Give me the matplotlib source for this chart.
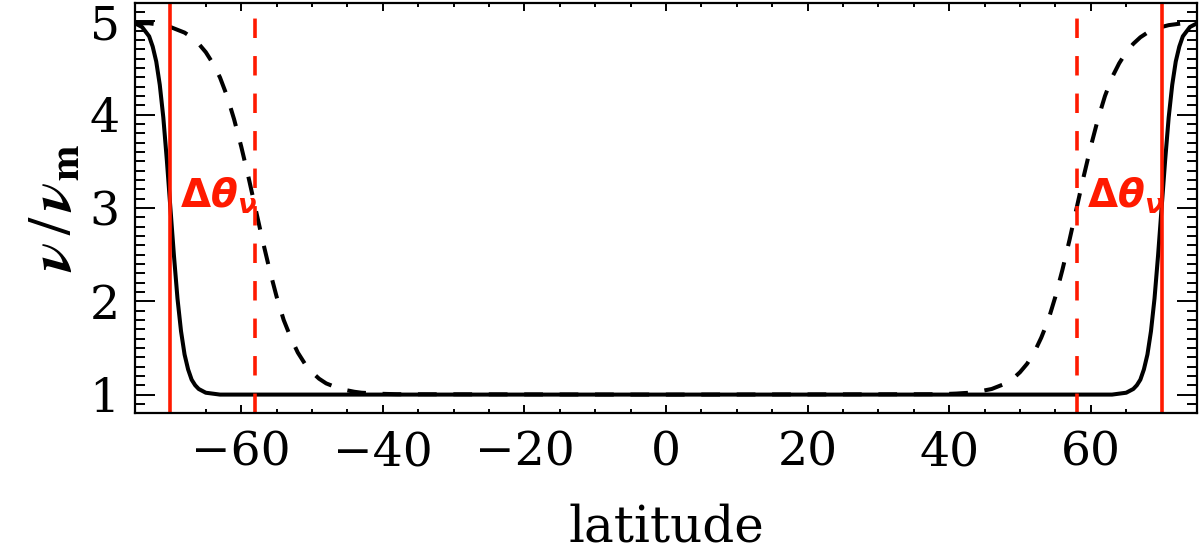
import matplotlib
matplotlib.use("Agg")
import matplotlib.pyplot as plt
from matplotlib.ticker import MultipleLocator

# ---- data ----
lat_solid = [-75, -74, -73, -72.5, -72, -71.5, -71, -70.5, -70, -69.5, -69, -68.5, -68,
             -67.5, -67, -66.5, -66, -65, -64, -63, 0,
             63, 64, 65, 66, 66.5, 67, 67.5, 68, 68.5, 69, 69.5, 70, 70.5, 71, 71.5,
             72, 72.5, 73, 74, 75]
nu_solid = [4.98, 4.94, 4.84, 4.73, 4.57, 4.32, 3.97, 3.51, 3.00, 2.49, 2.03, 1.68, 1.43,
            1.27, 1.16, 1.10, 1.06, 1.02, 1.01, 1.00, 1.00,
            1.00, 1.01, 1.02, 1.06, 1.10, 1.16, 1.27, 1.43, 1.68, 2.03, 2.49, 3.00, 3.51,
            3.97, 4.32, 4.57, 4.73, 4.84, 4.94, 4.98]

lat_dash = [-75, -74, -73, -72, -71, -70, -69, -68, -67, -66, -65, -64, -63, -62, -61,
            -60, -59, -58, -57, -56, -55, -54, -53, -52, -51, -50, -49, -48, -47, -46,
            -45, -44, -43, -42, -41, -40, -39, -38, 0,
            38, 39, 40, 41, 42, 43, 44, 45, 46, 47, 48, 49, 50, 51, 52, 53, 54, 55, 56,
            57, 58, 59, 60, 61, 62, 63, 64, 65, 66, 67, 68, 69, 70, 71, 72, 73, 74, 75]
nu_dash = [4.99, 4.98, 4.98, 4.97, 4.96, 4.94, 4.91, 4.88, 4.83, 4.76, 4.67, 4.55, 4.40,
           4.20, 3.95, 3.66, 3.34, 3.00, 2.66, 2.34, 2.05, 1.80, 1.61, 1.45, 1.33, 1.24,
           1.17, 1.12, 1.09, 1.06, 1.045, 1.03, 1.02, 1.016, 1.011, 1.008, 1.006, 1.004,
           1.00,
           1.004, 1.006, 1.008, 1.011, 1.016, 1.02, 1.03, 1.045, 1.06, 1.09, 1.12, 1.17,
           1.24, 1.33, 1.45, 1.61, 1.80, 2.05, 2.34, 2.66, 3.00, 3.34, 3.66, 3.95, 4.20,
           4.40, 4.55, 4.67, 4.76, 4.83, 4.88, 4.91, 4.94, 4.96, 4.97, 4.98, 4.98, 4.99]

solid_marks = [-70, 70]
dash_marks = [-58, 58]
label_x = [-68.6, 59.4]
label_y = 3.0

xticks = [-60, -40, -20, 0, 20, 40, 60]
yticks = [1, 2, 3, 4, 5]

RED = "#ff1a00"

# ---- figure ----
fig = plt.figure(figsize=(12, 5.51), dpi=100)
ax = fig.add_axes([0.1125, 0.25, 0.885, 0.745])

lw = 2.9
ax.plot(lat_solid, nu_solid, color="black", lw=lw, solid_capstyle="butt")
ax.plot(lat_dash, nu_dash, color="black", lw=lw, linestyle=(0, (13.5 / lw, 12.0 / lw)))

for x in solid_marks:
    ax.axvline(x, color=RED, lw=2.6)
for x in dash_marks:
    ax.axvline(x, color=RED, lw=2.6, linestyle=(0, (14.0 / 2.6, 13.0 / 2.6)))

for x in label_x:
    ax.text(x, label_y, r"$\mathbf{\Delta}\boldsymbol{\theta}_{\boldsymbol{\nu}}$",
            color=RED, fontsize=28, math_fontfamily="dejavusans",
            ha="left", va="baseline")

ax.set_xlim(-75, 75)
ax.set_ylim(0.8, 5.2)
ax.set_xticks(xticks)
ax.set_yticks(yticks)
ax.set_xticklabels([f"\u2212{abs(v)}" if v < 0 else str(v) for v in xticks])
ax.xaxis.set_minor_locator(MultipleLocator(5))
ax.yaxis.set_minor_locator(MultipleLocator(0.1))

ax.tick_params(axis="x", which="major", direction="in", length=5.6, width=1.4,
               top=True, bottom=True, pad=12)
ax.tick_params(axis="x", which="minor", direction="in", length=3.0, width=1.4,
               top=True, bottom=True)
ax.tick_params(axis="y", which="major", direction="in", length=14.4, width=1.4,
               left=True, right=True, pad=11)
ax.tick_params(axis="y", which="minor", direction="in", length=7.2, width=1.4,
               left=True, right=True)
for lab in ax.get_xticklabels() + ax.get_yticklabels():
    lab.set_fontfamily("DejaVu Serif")
    lab.set_fontsize(34)

for s in ax.spines.values():
    s.set_linewidth(1.6)

ax.set_xlabel("latitude", fontfamily="DejaVu Serif", fontsize=36, labelpad=20)
ax.set_ylabel(r"$\boldsymbol{\nu}\,/\,\boldsymbol{\nu}_{\mathbf{m}}$", fontsize=44,
              math_fontfamily="stix", labelpad=4)

fig.savefig("out.png", dpi=100)
